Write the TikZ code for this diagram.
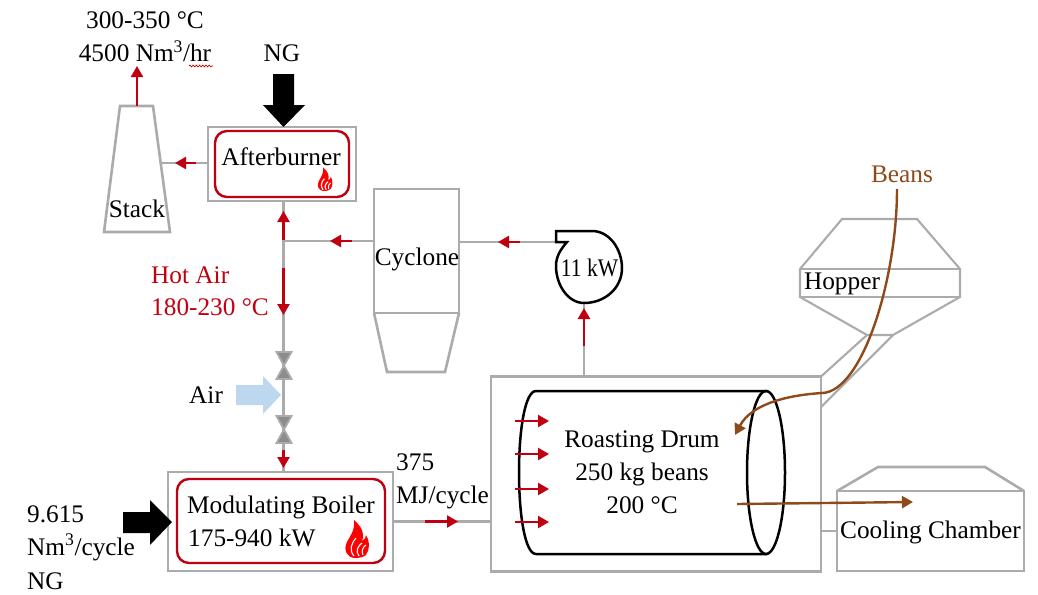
\documentclass[tikz,border=0pt]{standalone}
\usepackage{fontspec}
\setmainfont{Liberation Serif}
\usetikzlibrary{arrows.meta,decorations.pathmorphing}
\definecolor{grayline}{HTML}{ABABAB}
\definecolor{redline}{HTML}{C00010}
\definecolor{brownline}{HTML}{8F4A1B}
\definecolor{airblue}{HTML}{BDD7EE}
\definecolor{valvegray}{HTML}{8C8C8C}
\tikzset{
  x=1pt,y=-1pt,
  gr/.style={draw=grayline,line width=2.6pt},
  grthin/.style={draw=grayline,line width=2.1pt},
  outerbox/.style={gr,fill=white,inner sep=0pt,outer sep=0pt},
  innerbox/.style={draw=redline,line width=2.4pt,rounded corners=12pt,fill=white,inner sep=0pt},
  redflow/.style={draw=redline,line width=2.4pt,-{Triangle[length=11pt,width=12pt]}},
  brownflow/.style={draw=brownline,line width=2.4pt,-{Triangle[length=11pt,width=12pt]}},
  txt/.style={font=\fontsize{25.3}{30}\selectfont,anchor=base,inner sep=0pt,text=black},
  txtl/.style={txt,anchor=base west},
  drumline/.style={draw=black,line width=2.5pt},
  valvepart/.style={draw=grayline,fill=valvegray,line width=1.8pt,line join=miter},
  flame/.pic={
    \fill[red] (-3,0) .. controls (-10,-1) and (-14,-8) .. (-10,-16)
      .. controls (-7,-22) and (-2,-27) .. (-3,-38)
      .. controls (4,-32) and (8,-25) .. (5,-17)
      .. controls (8,-18) and (9,-21) .. (9,-23)
      .. controls (13,-17) and (13,-9) .. (9,-3)
      .. controls (7,-1) and (3,0) .. (-3,0) -- cycle;
    \draw[white,line width=1.1pt] (-3,-2) .. controls (-8,-8) and (-6,-14) .. (-1,-20);
    \draw[white,line width=1.1pt] (2,-2) .. controls (-2,-7) and (1,-12) .. (5,-15);
    \draw[white,line width=1pt] (6,-3) .. controls (4,-7) and (6,-11) .. (9,-13);
  }
}
\begin{document}
\begin{tikzpicture}
\useasboundingbox (0,0) rectangle (1038,594);

% named equipment
\node[outerbox,minimum width=148pt,minimum height=74pt] (ab) at (282,164) {};
\node[innerbox,minimum width=134pt,minimum height=66pt] (abin) at (282,164) {};
\node[outerbox,minimum width=225pt,minimum height=99pt] (mb) at (280.5,521.5) {};
\node[innerbox,minimum width=208pt,minimum height=84pt] (mbin) at (281,521) {};
\node[outerbox,minimum width=330pt,minimum height=195pt] (rd) at (656,474) {};
\node[outerbox,minimum width=187pt,minimum height=80pt] (cc) at (930.5,531) {};
\node[outerbox,minimum width=85pt,minimum height=124pt] (cy) at (416.5,251) {};

% connection points
\coordinate (stackR) at (162,163);
\coordinate (stackT) at (137,106);
\coordinate (stackOut) at (137,66);
\coordinate (junction) at (283.5,241);
\coordinate (fanOut) at (560,242);
\coordinate (fanIn) at (584,303);
\coordinate (v1t) at (284,352);
\coordinate (v1m) at (284,365.5);
\coordinate (v1b) at (284,379);
\coordinate (v2t) at (284,416);
\coordinate (v2m) at (284,429.5);
\coordinate (v2b) at (284,443);

% gray pipes
\draw[gr] (stackR) -- (ab.west |- stackR);
\draw[gr] (ab.south -| junction) -- (junction |- mb.north);
\draw[gr] (cy.west |- junction) -- (junction);
\draw[gr] (fanOut) -- (cy.east |- fanOut);
\draw[gr] (fanIn) -- (fanIn |- rd.north);
\draw[gr] (mb.east) -- (rd.west |- mb.east);
\draw[gr] (rd.east |- cc.west) -- (cc.west);

% stack
\draw[gr,line join=miter] (120,106) -- (153,106) -- (170,232) -- (104,232) -- cycle;
% afterburner feed arrow
\coordinate (ngT) at (283.5,74);
\fill[black] (273,74) -- (294,74) -- (294,105) -- (305,105) -- (283.5,127) -- (263,105) -- (273,105) -- cycle;
% cyclone
\draw[gr,line join=miter] (cy.south west) -- (387,372) -- (445,372) -- (cy.south east);

% valves
\foreach \t/\m/\b in {v1t/v1m/v1b,v2t/v2m/v2b}{
  \draw[valvepart] ([xshift=-7.5pt]\t) -- ([xshift=7.5pt]\t) -- (\m) -- cycle;
  \draw[valvepart] ([xshift=-7.5pt]\b) -- ([xshift=7.5pt]\b) -- (\m) -- cycle;
}
% air arrow
\fill[airblue] (236,385) -- (263,385) -- (263,376) -- (281,395) -- (263,414) -- (263,405) -- (236,405) -- cycle;
% boiler feed
\fill[black] (123,512) -- (150,512) -- (150,500) -- (172,522) -- (150,545) -- (150,533) -- (123,533) -- cycle;

% fan
\draw[draw=black,line width=2.5pt,line join=miter,fill=white]
  (556,231) -- (592,231) .. controls (610,231) and (622,250) .. (622,268)
  .. controls (622,288) and (605,303) .. (584,303)
  .. controls (568,303) and (556,285) .. (556,266)
  .. controls (556,256) and (561,249) .. (567,242) -- (556,242) -- cycle;

% hopper
\draw[grthin,line join=miter] (842,219) -- (917,219) -- (960,269) -- (960,297) -- (893,335) -- (867,335) -- (800,297) -- (800,269) -- cycle;
\draw[grthin] (800,269) -- (960,269);
\draw[grthin] (800,297) -- (960,297);
\draw[grthin] (867,335) -- (rd.north east);
\draw[grthin] (893,335) -- (821,407);

% drum
\draw[drumline,fill=white] (767,391) -- (536,391) .. controls (525,391) and (519,430) .. (519,472)
  .. controls (519,515) and (525,554) .. (536,554) -- (767,554);
\draw[drumline] (766,472.5) ellipse [x radius=19pt,y radius=81.5pt];

% red flow arrows
\coordinate (a1s) at (196,163); \coordinate (a1e) at (175,163);
\coordinate (a2s) at (283.5,240); \coordinate (a2e) at (283.5,211);
\coordinate (a3s) at (352,241); \coordinate (a3e) at (330,241);
\coordinate (a4s) at (283.5,268); \coordinate (a4e) at (283.5,315);
\coordinate (a5s) at (283.5,450); \coordinate (a5e) at (283.5,468);
\coordinate (a6s) at (425,521.5); \coordinate (a6e) at (458,521.5);
\coordinate (a7s) at (520,242); \coordinate (a7e) at (498,242);
\coordinate (a8s) at (584,346); \coordinate (a8e) at (584,308);
\draw[redflow] (stackT) -- (stackOut);
\foreach \s/\e in {a1s/a1e,a2s/a2e,a3s/a3e,a4s/a4e,a5s/a5e,a6s/a6e,a7s/a7e,a8s/a8e}{
  \draw[redflow] (\s) -- (\e);
}
\foreach \yy in {421,454,489,522}{
  \coordinate (hs) at (515,\yy); \coordinate (he) at (549,\yy);
  \draw[redflow] (hs) -- (he);
}

% flames
\pic at (357,558) {flame};
\pic[scale=0.62] at (325,191) {flame};

% brown flows
\node[txt,text=brownline] (beans) at (902,182) {Beans};
\coordinate (beansS) at (897,189);
\coordinate (beansE) at (735,435);
\coordinate (coolS) at (737,504);
\coordinate (coolE) at (913,502);
\draw[brownflow] (beansS) .. controls (897,280) and (862,392) .. (822,393)
  .. controls (790,395) and (752,403) .. (beansE);
\draw[brownflow] (coolS) -- (coolE);

% cooling chamber roof
\draw[gr,line join=miter] (cc.north west) -- (878,467) -- (985,467) -- (cc.north east);

% labels
\node[txt] (t1) at (145,29) {300-350 °C};
\node[txt] (t2) at (145,62) {4500 Nm\textsuperscript{3}/hr};
\coordinate (w1) at (189,66); \coordinate (w2) at (213,66);
\draw[draw=red!75!black,line width=.7pt,decorate,decoration={snake,amplitude=.9pt,segment length=3.2pt}] (w1) -- (w2);
\node[txt] (t3) at (282,62) {NG};
\node[txt] (t4) at (281,165) {Afterburner};
\node[txt] (t5) at (137,217) {Stack};
\node[txt] (t6) at (417,265) {Cyclone};
\node[txt] (t7) at (589.5,276) {\scalebox{.85}[1]{11 kW}};
\node[txt] (t8) at (842,289) {Hopper};
\node[txtl,text=redline] (t9) at (151,283) {Hot Air};
\node[txtl,text=redline] (t10) at (151,315) {180-230 °C};
\node[txtl] (t11) at (189,403) {Air};
\node[txtl] (t12) at (396,470) {375};
\node[txtl] (t13) at (396,503) {MJ/cycle};
\node[txtl] (t14) at (27,522) {9.615};
\node[txtl] (t15) at (27,555) {Nm\textsuperscript{3}/cycle};
\node[txtl] (t16) at (27,589) {NG};
\node[txtl] (t17) at (187,513) {Modulating Boiler};
\node[txtl] (t18) at (188,546) {175-940 kW};
\node[txt] (t19) at (642,447) {Roasting Drum};
\node[txt] (t20) at (642,480) {250 kg beans};
\node[txt] (t21) at (642,513) {200 °C};
\node[txt] (t22) at (930.5,538) {Cooling Chamber};
\end{tikzpicture}
\end{document}
